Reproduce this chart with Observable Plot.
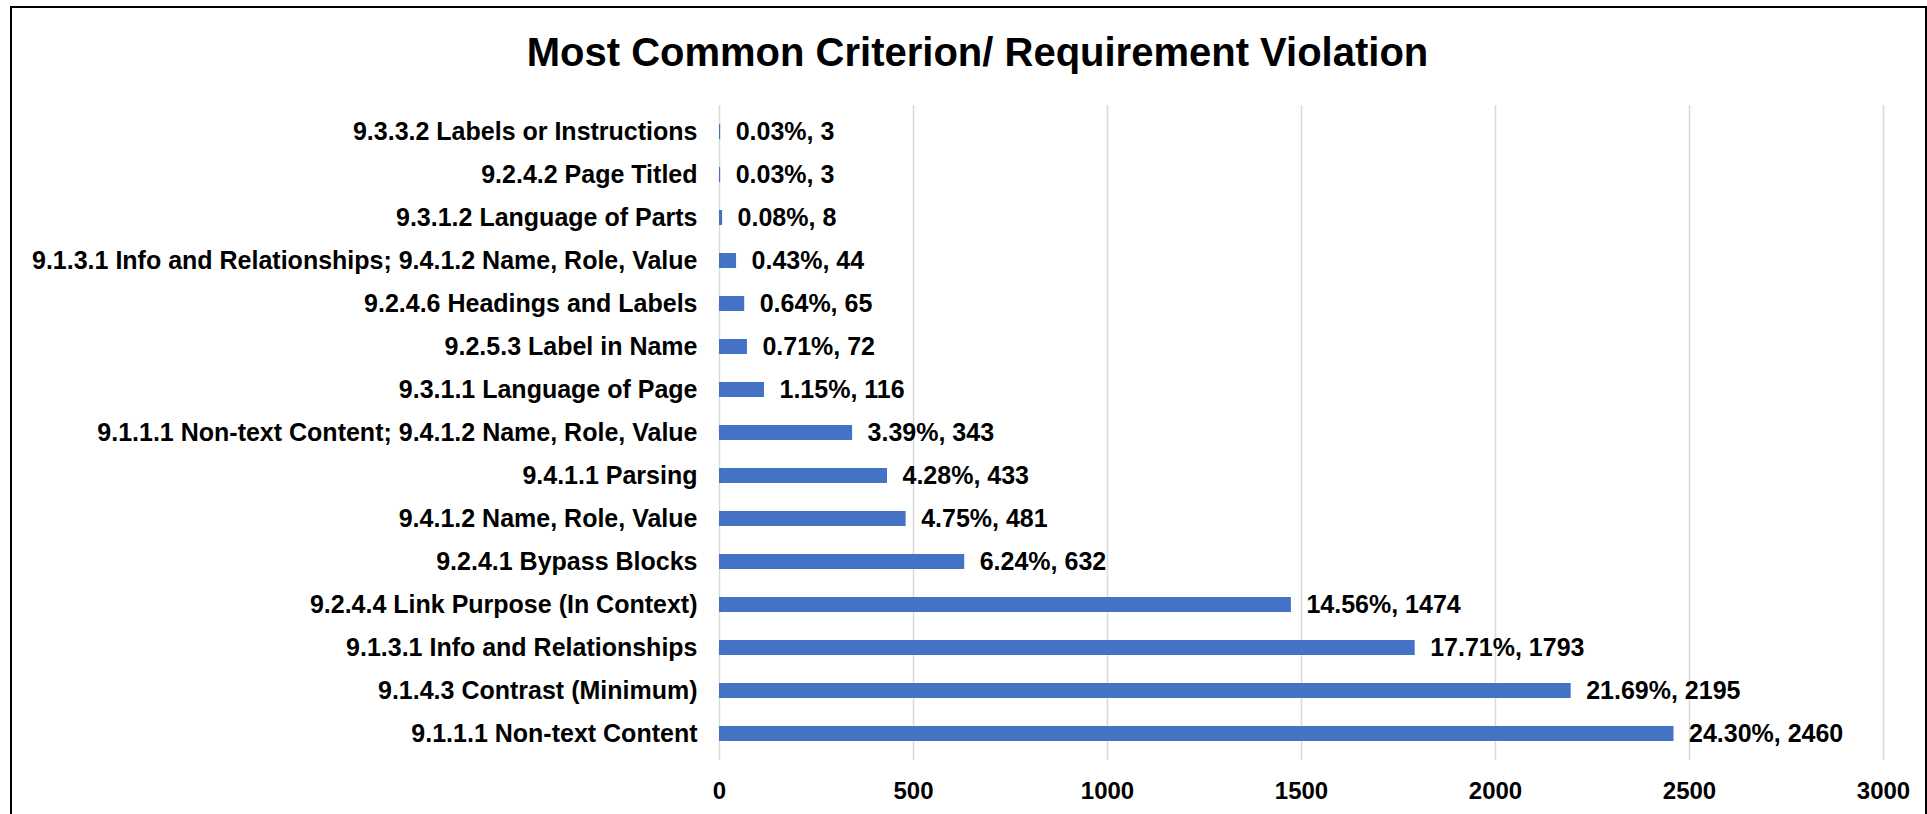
<!DOCTYPE html>
<html>
<head>
<meta charset="utf-8">
<script src="https://cdn.jsdelivr.net/npm/d3@7"></script>
<script src="https://cdn.jsdelivr.net/npm/@observablehq/plot@0.6"></script>
<style>
  html, body { margin: 0; padding: 0; background: #fff; width: 1927px; height: 814px; overflow: hidden; }
  #title { position: absolute; left: 14px; top: 0; width: 1927px; height: 104px; display: flex; align-items: center; justify-content: center;
    font-family: "Liberation Sans", Arial, sans-serif; font-weight: bold; font-size: 40px; color: #000; }
  #chart { position: absolute; left: 0; top: 90px; }
  #frame { position: absolute; left: 10px; top: 6px; width: 1913px; height: 900px; border: 2px solid #000; pointer-events: none; }
</style>
</head>
<body>
<div id="title">Most Common Criterion/ Requirement Violation</div>
<div id="chart"></div>
<div id="frame"></div>
<script>
const categories = [
  "9.3.3.2 Labels or Instructions",
  "9.2.4.2 Page Titled",
  "9.3.1.2 Language of Parts",
  "9.1.3.1 Info and Relationships; 9.4.1.2 Name, Role, Value",
  "9.2.4.6 Headings and Labels",
  "9.2.5.3 Label in Name",
  "9.3.1.1 Language of Page",
  "9.1.1.1 Non-text Content; 9.4.1.2 Name, Role, Value",
  "9.4.1.1 Parsing",
  "9.4.1.2 Name, Role, Value",
  "9.2.4.1 Bypass Blocks",
  "9.2.4.4 Link Purpose (In Context)",
  "9.1.3.1 Info and Relationships",
  "9.1.4.3 Contrast (Minimum)",
  "9.1.1.1 Non-text Content"
];
const counts = [3, 3, 8, 44, 65, 72, 116, 343, 433, 481, 632, 1474, 1793, 2195, 2460];
const percents = ["0.03%", "0.03%", "0.08%", "0.43%", "0.64%", "0.71%", "1.15%", "3.39%", "4.28%", "4.75%", "6.24%", "14.56%", "17.71%", "21.69%", "24.30%"];
const xTicks = [0, 500, 1000, 1500, 2000, 2500, 3000];

const data = categories.map((c, i) => ({category: c, count: counts[i], label: `${percents[i]}, ${counts[i]}`}));

const chart = Plot.plot({
  width: 1927,
  height: 724,
  marginTop: 15,
  marginBottom: 54,
  marginLeft: 719,
  marginRight: 44,
  style: {background: "transparent", fontFamily: "'Liberation Sans', Arial, sans-serif", color: "#000"},
  x: {domain: [0, 3000], ticks: xTicks, label: null},
  y: {domain: categories, label: null, paddingInner: 0.66, paddingOuter: 0.33},
  marks: [
    Plot.gridX(xTicks, {stroke: "#d9d9d9", strokeOpacity: 1, strokeWidth: 1.5}),
    Plot.barX(data, {x: "count", y: "category", fill: "#4472C4"}),
    Plot.text(data, {x: "count", y: "category", text: "label", textAnchor: "start", dx: 15, fontSize: 25, fontWeight: "bold", fill: "#000"}),
    Plot.axisX({ticks: xTicks, tickSize: 0, tickPadding: 21, fontSize: 24, fontWeight: "bold", label: null, tickFormat: d => String(d)}),
    Plot.axisY({tickSize: 0, tickPadding: 22, fontSize: 25, fontWeight: "bold", label: null})
  ]
});
document.getElementById("chart").appendChild(chart);
</script>
</body>
</html>
